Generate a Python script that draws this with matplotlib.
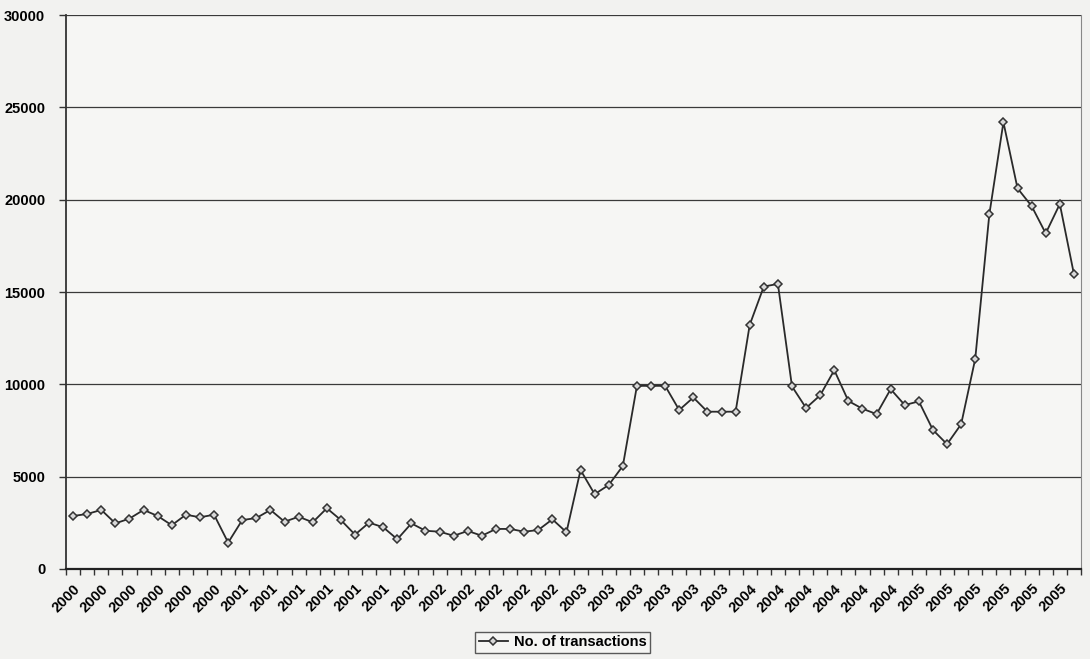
import matplotlib.pyplot as plt
import numpy as np

plt.rcParams['font.family'] = ['Liberation Sans', 'DejaVu Sans']

# monthly transaction counts, Jan 2000 .. Dec 2005
values_2000 = [2870, 2980, 3200, 2470, 2730, 3200, 2870, 2370, 2940, 2800, 2940, 1430]
values_2001 = [2650, 2760, 3200, 2560, 2830, 2530, 3290, 2650, 1860, 2510, 2260, 1610]
values_2002 = [2470, 2070, 2020, 1800, 2060, 1800, 2170, 2170, 2020, 2110, 2690, 1990]
values_2003 = [5360, 4050, 4550, 5580, 9920, 9920, 9920, 8610, 9290, 8520, 8520, 8520]
values_2004 = [13220, 15300, 15440, 9890, 8720, 9410, 10770, 9100, 8680, 8390, 9740, 8880]
values_2005 = [9080, 7530, 6760, 7840, 11380, 19210, 24200, 20620, 19660, 18180, 19770, 15980]
years = [2000, 2001, 2002, 2003, 2004, 2005]

transactions = values_2000 + values_2001 + values_2002 + values_2003 + values_2004 + values_2005
month_years = [y for y in years for m in range(12)]
n = len(transactions)
x = np.arange(n)

bg = '#f2f2f0'
fig = plt.figure(figsize=(10.9, 6.59), dpi=100, facecolor=bg)
ax = fig.add_axes([0.0606, 0.1366, 0.9311, 0.8404])
ax.set_facecolor('#f6f6f4')

ax.plot(x, transactions, color='#2a2a2a', lw=1.3, marker='D', markersize=4.5,
        mfc='#d8d8d8', mec='#333333', mew=1.1, label='No. of transactions', zorder=3)

ax.set_xlim(-0.5, n - 0.5)
ax.set_ylim(0, 30000)
ax.set_yticks(range(0, 30001, 5000))
ax.yaxis.grid(True, color='#3a3a3a', lw=0.9)
ax.set_axisbelow(True)

# year label on every second month, tick marks on category boundaries
ax.set_xticks(x[::2])
ax.set_xticklabels([str(y) for y in month_years[::2]], rotation=45, ha='right',
                   rotation_mode='anchor', fontsize=10.5, fontweight='bold')
ax.set_xticks(np.arange(n + 1) - 0.5, minor=True)
ax.tick_params(axis='x', which='major', length=0, pad=9)
ax.tick_params(axis='x', which='minor', length=4, width=1, color='#333333')
ax.tick_params(axis='y', length=5, width=1, color='#333333', labelsize=10.5, pad=10)
for lab in ax.get_yticklabels():
    lab.set_fontweight('bold')

ax.spines['top'].set_visible(False)
ax.spines['left'].set_color('#333333')
ax.spines['left'].set_linewidth(1.3)
ax.spines['bottom'].set_color('#222222')
ax.spines['bottom'].set_linewidth(1.6)
ax.spines['right'].set_color('#888888')
ax.spines['right'].set_linewidth(0.8)
ax.spines['right'].set_linestyle((0, (2, 1)))

leg = fig.legend(loc='lower center', bbox_to_anchor=(0.516, -0.002), frameon=True,
                 fancybox=False, edgecolor='#333333', facecolor='#f6f6f4',
                 prop={'weight': 'bold', 'size': 10.5}, handlelength=2.0,
                 borderpad=0.25, handletextpad=0.4)
leg.get_frame().set_linewidth(1.0)

plt.savefig('out.png', dpi=100, facecolor=bg)
